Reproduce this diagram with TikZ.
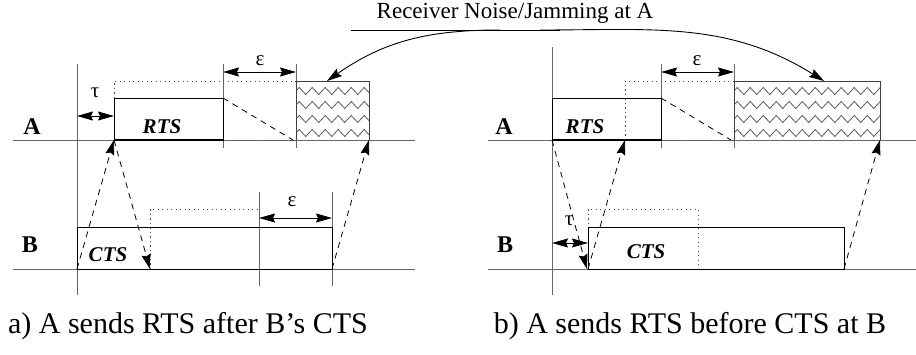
\documentclass[tikz,border=0pt]{standalone}
\usepackage{fontspec}
\setmainfont{Liberation Serif}
\usetikzlibrary{arrows.meta,decorations.pathmorphing}

\tikzset{
  axis/.style={gray!80!black, line width=0.9pt},
  frame/.style={black, line width=0.9pt},
  dotline/.style={gray!60!black, line width=1pt, dash pattern=on 1.2pt off 3.3pt},
  msg/.style={line width=0.8pt, dash pattern=on 6pt off 5pt, -{Stealth[length=15pt,width=9pt,inset=2pt]}},
  slope/.style={line width=0.8pt, dash pattern=on 6pt off 5pt},
  gap/.style={line width=0.9pt, {Stealth[length=16pt,width=9pt,inset=2pt]}-{Stealth[length=16pt,width=9pt,inset=2pt]}},
  noise/.style={gray!70!black, line width=0.8pt, decorate, decoration={zigzag, segment length=13pt, amplitude=3.5pt}},
  lbl/.style={font=\bfseries\fontsize{24}{24}\selectfont},
  pkt/.style={font=\bfseries\itshape\fontsize{21}{21}\selectfont},
  sym/.style={font=\fontsize{21}{21}\selectfont},
  captxt/.style={font=\fontsize{30}{30}\selectfont},
  toptxt/.style={font=\fontsize{23}{23}\selectfont},
}

\begin{document}
\begin{tikzpicture}[x=1pt,y=-1pt]
\useasboundingbox (0,0) rectangle (916,354);

% ---- a) A sends RTS after B's CTS
\draw[axis] (13,140) -- (415,140);
\draw[axis] (13,269) -- (415,269);
\draw[axis] (77,64) -- (77,295);
\draw[axis] (223,64) -- (223,148);
\draw[axis] (296,64) -- (296,148);
\draw[axis] (259,192) -- (259,286);
\draw[axis] (332,192) -- (332,286);

\coordinate (aA0) at (77,140);
\coordinate (aRTS) at (114,140);
\coordinate (aB0) at (77,269);
\coordinate (aRx) at (150,269);
\coordinate (aBend) at (332,269);
\coordinate (aJend) at (369,140);

\draw[dotline] (114,98) -- (114,81) -- (296,81);
\draw[dotline] (223,140) -- (296,140);
\draw[dotline] (150,269) -- (150,209) -- (259,209);
\draw[frame] (114,140) rectangle (223,98);
\draw[black, line width=1.8pt] (114,140) -- (223,140);
\draw[frame] (77,269) rectangle (332,227);
\draw[slope] (223,98) -- (293,140);

\begin{scope}
  \clip (296,81) rectangle (369,140);
  \foreach \y in {91,105,119,133}
    \draw[noise] (296,\y) -- (375,\y);
\end{scope}
\draw[frame, gray!50!black] (296,140) -- (296,81) -- (369,81) -- (369,140);
\coordinate (aJtop) at (327,81);

\draw[gap] (77,116) -- (114,116);
\draw[gap] (223,72) -- (296,72);
\draw[gap] (259,218) -- (332,218);

\node[lbl] (aA) at (32,127) {A};
\node[lbl] (aB) at (30,245) {B};
\node[pkt] (aRTSl) at (162,127) {RTS};
\node[pkt] (aCTSl) at (108,255) {CTS};
\node[sym] (aTau) at (95,93) {τ};
\node[sym] (aEps1) at (260,61) {ε};
\node[sym] (aEps2) at (292,202) {ε};

\draw[msg] (aB0) -- (aRTS);
\draw[msg] (aRTS) -- (aRx);
\draw[msg] (aBend) -- (aJend);

\node[captxt] (capA) at (188,326) {a) A sends RTS after B’s CTS};

% ---- b) A sends RTS before CTS at B
\draw[axis] (488,140) -- (916,140);
\draw[axis] (488,269) -- (916,269);
\draw[axis] (552,47) -- (552,295);
\draw[axis] (661,64) -- (661,148);
\draw[axis] (734,64) -- (734,148);

\coordinate (bRTS) at (552,140);
\coordinate (bRx) at (587,269);
\coordinate (bCTS) at (588,269);
\coordinate (bArr) at (625,140);
\coordinate (bBend) at (844,269);
\coordinate (bJend) at (880,140);

\draw[dotline] (625,140) -- (625,81) -- (734,81);
\draw[dotline] (661,140) -- (734,140);
\draw[dotline] (588,269) -- (588,209) -- (698,209) -- (698,269);
\draw[frame] (552,140) rectangle (661,98);
\draw[black, line width=1.8pt] (552,140) -- (661,140);
\draw[frame] (588,269) rectangle (844,227);
\draw[slope] (661,98) -- (731,140);

\begin{scope}
  \clip (734,81) rectangle (880,140);
  \foreach \y in {91,105,119,133}
    \draw[noise] (734,\y) -- (886,\y);
\end{scope}
\draw[frame, gray!50!black] (734,140) -- (734,81) -- (880,81) -- (880,140);
\coordinate (bJtop) at (824,81);

\draw[gap] (552,243) -- (588,243);
\draw[gap] (661,72) -- (734,72);

\node[lbl] (bA) at (504,127) {A};
\node[lbl] (bB) at (505,245) {B};
\node[pkt] (bRTSl) at (585,127) {RTS};
\node[pkt] (bCTSl) at (646,252) {CTS};
\node[sym] (bTau) at (569,221) {τ};
\node[sym] (bEps) at (697,61) {ε};

\draw[msg] (bRTS) -- (bRx);
\draw[msg] (bCTS) -- (bArr);
\draw[msg] (bBend) -- (bJend);

\node[captxt] (capB) at (690,326) {b) A sends RTS before CTS at B};

% ---- noise label
\node[toptxt] (noiseL) at (515,13) {Receiver Noise/Jamming at A};
\draw[line width=0.9pt] (351,30) -- (560,30);
\draw[line width=0.9pt, -{Stealth[length=15pt,width=9pt,inset=2pt]}] (500,30) to[out=180,in=35] (aJtop);
\draw[line width=0.9pt, -{Stealth[length=15pt,width=9pt,inset=2pt]}] (540,30) to[out=0,in=148] (bJtop);
\end{tikzpicture}
\end{document}
